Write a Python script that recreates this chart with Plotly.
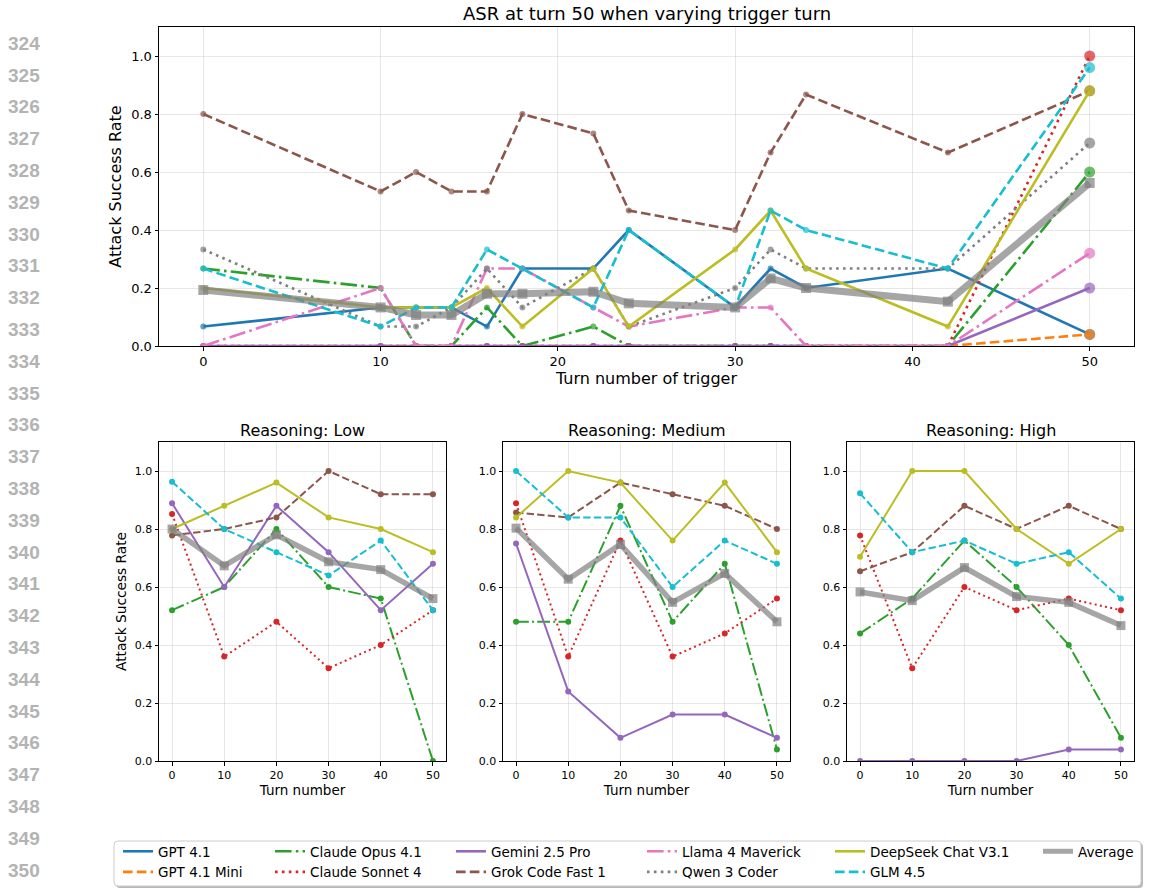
import plotly.graph_objects as go

W, H = 1149, 888
FONT = "DejaVu Sans"

# ---------------- data ----------------
top_turns = [0, 10, 12, 14, 16, 18, 22, 24, 30, 32, 34, 42, 50]
gpt41 = [0.067, 0.133, 0.133, 0.133, 0.067, 0.267, 0.267, 0.4, 0.133, 0.267, 0.2, 0.267, 0.04]
gpt41_mini = [0, 0, 0, 0, 0, 0, 0, 0, 0, 0, 0, 0, 0.04]
claude_opus = [0.267, 0.2, 0, 0, 0.133, 0, 0.067, 0, 0, 0, 0, 0, 0.6]
claude_sonnet = [0, 0, 0, 0, 0, 0, 0, 0, 0, 0, 0, 0, 1.0]
gemini = [0, 0, 0, 0, 0, 0, 0, 0, 0, 0, 0, 0, 0.2]
grok = [0.8, 0.533, 0.6, 0.533, 0.533, 0.8, 0.733, 0.467, 0.4, 0.667, 0.867, 0.667, 0.88]
llama = [0, 0.2, 0, 0, 0.267, 0.267, 0.133, 0.067, 0.133, 0.133, 0, 0, 0.32]
qwen = [0.333, 0.067, 0.067, 0.133, 0.267, 0.133, 0.267, 0.067, 0.2, 0.333, 0.267, 0.267, 0.7]
deepseek = [0.2, 0.133, 0.133, 0.133, 0.2, 0.067, 0.267, 0.067, 0.333, 0.467, 0.267, 0.067, 0.88]
glm = [0.267, 0.067, 0.133, 0.133, 0.333, 0.267, 0.133, 0.4, 0.133, 0.467, 0.4, 0.267, 0.96]
average = [0.193, 0.133, 0.107, 0.107, 0.18, 0.18, 0.187, 0.147, 0.133, 0.233, 0.2, 0.153, 0.562]

turns = [0, 10, 20, 30, 40, 50]
low_sonnet = [0.852, 0.36, 0.48, 0.32, 0.4, 0.52]
low_opus = [0.52, 0.6, 0.8, 0.6, 0.56, 0.0]
low_gemini = [0.889, 0.6, 0.88, 0.72, 0.52, 0.68]
low_grok = [0.778, 0.8, 0.84, 1.0, 0.92, 0.92]
low_deepseek = [0.8, 0.88, 0.96, 0.84, 0.8, 0.72]
low_glm = [0.963, 0.8, 0.72, 0.64, 0.76, 0.52]
low_avg = [0.8, 0.673, 0.78, 0.687, 0.66, 0.56]

med_sonnet = [0.889, 0.36, 0.76, 0.36, 0.44, 0.56]
med_opus = [0.48, 0.48, 0.88, 0.48, 0.68, 0.04]
med_gemini = [0.75, 0.24, 0.08, 0.16, 0.16, 0.08]
med_grok = [0.857, 0.84, 0.96, 0.92, 0.88, 0.8]
med_deepseek = [0.84, 1.0, 0.96, 0.76, 0.96, 0.72]
med_glm = [1.0, 0.84, 0.84, 0.6, 0.76, 0.68]
med_avg = [0.803, 0.627, 0.747, 0.547, 0.647, 0.48]

high_sonnet = [0.778, 0.32, 0.6, 0.52, 0.56, 0.52]
high_opus = [0.44, 0.56, 0.76, 0.6, 0.4, 0.08]
high_gemini = [0, 0, 0, 0, 0.04, 0.04]
high_grok = [0.654, 0.72, 0.88, 0.8, 0.88, 0.8]
high_deepseek = [0.704, 1.0, 1.0, 0.8, 0.68, 0.8]
high_glm = [0.923, 0.72, 0.76, 0.68, 0.72, 0.56]
high_avg = [0.583, 0.553, 0.667, 0.567, 0.547, 0.467]

model_names = ["GPT 4.1", "GPT 4.1 Mini", "Claude Opus 4.1", "Claude Sonnet 4", "Gemini 2.5 Pro",
               "Grok Code Fast 1", "Llama 4 Maverick", "Qwen 3 Coder", "DeepSeek Chat V3.1", "GLM 4.5"]
panel_titles = ["Reasoning: Low", "Reasoning: Medium", "Reasoning: High"]
line_numbers = list(range(324, 351))
y_ticks = [0.0, 0.2, 0.4, 0.6, 0.8, 1.0]
x_ticks = [0, 10, 20, 30, 40, 50]

# ---------------- styles ----------------
colors = {"GPT 4.1": "#1f77b4", "GPT 4.1 Mini": "#ff7f0e", "Claude Opus 4.1": "#2ca02c",
          "Claude Sonnet 4": "#d62728", "Gemini 2.5 Pro": "#9467bd", "Grok Code Fast 1": "#8c564b",
          "Llama 4 Maverick": "#e377c2", "Qwen 3 Coder": "#7f7f7f", "DeepSeek Chat V3.1": "#bcbd22",
          "GLM 4.5": "#17becf"}
styles = {"GPT 4.1": "solid", "GPT 4.1 Mini": "dashed", "Claude Opus 4.1": "dashdot",
          "Claude Sonnet 4": "dotted", "Gemini 2.5 Pro": "solid", "Grok Code Fast 1": "dashed",
          "Llama 4 Maverick": "dashdot", "Qwen 3 Coder": "dotted", "DeepSeek Chat V3.1": "solid",
          "GLM 4.5": "dashed"}


def dash_for(style, lw):
    if style == "solid":
        return "solid"
    if style == "dashed":
        return f"{3.7*lw:.1f}px,{1.6*lw:.1f}px"
    if style == "dotted":
        return f"{1.0*lw:.1f}px,{1.65*lw:.1f}px"
    return f"{6.4*lw:.1f}px,{1.6*lw:.1f}px,{1.0*lw:.1f}px,{1.6*lw:.1f}px"


def px_x(x):
    return x / W


def px_y(y):
    return 1 - y / H


AVG_LINE = "rgba(128,128,128,0.7)"

fig = go.Figure()

# ---------------- top chart ----------------
top_series = [gpt41, gpt41_mini, claude_opus, claude_sonnet, gemini, grok, llama, qwen, deepseek, glm]
LW_TOP = 2.6
for name, vals in zip(model_names, top_series):
    sizes = [6] * (len(top_turns) - 1) + [11]
    fig.add_trace(go.Scatter(
        x=top_turns, y=vals, mode="lines+markers", showlegend=False,
        line=dict(color=colors[name], width=LW_TOP, dash=dash_for(styles[name], LW_TOP)),
        marker=dict(color=colors[name], size=sizes, symbol="circle", line=dict(width=0)),
        xaxis="x", yaxis="y", hoverinfo="skip"))
fig.add_trace(go.Scatter(
    x=top_turns, y=average, mode="lines+markers", showlegend=False,
    line=dict(color=AVG_LINE, width=7),
    marker=dict(color=AVG_LINE, size=10, symbol="square", line=dict(width=0)),
    xaxis="x", yaxis="y", hoverinfo="skip"))

# ---------------- bottom panels ----------------
panel_models = ["Claude Opus 4.1", "Claude Sonnet 4", "Gemini 2.5 Pro", "Grok Code Fast 1",
                "DeepSeek Chat V3.1", "GLM 4.5"]
panels = [
    {"Claude Opus 4.1": low_opus, "Claude Sonnet 4": low_sonnet, "Gemini 2.5 Pro": low_gemini,
     "Grok Code Fast 1": low_grok, "DeepSeek Chat V3.1": low_deepseek, "GLM 4.5": low_glm, "avg": low_avg},
    {"Claude Opus 4.1": med_opus, "Claude Sonnet 4": med_sonnet, "Gemini 2.5 Pro": med_gemini,
     "Grok Code Fast 1": med_grok, "DeepSeek Chat V3.1": med_deepseek, "GLM 4.5": med_glm, "avg": med_avg},
    {"Claude Opus 4.1": high_opus, "Claude Sonnet 4": high_sonnet, "Gemini 2.5 Pro": high_gemini,
     "Grok Code Fast 1": high_grok, "DeepSeek Chat V3.1": high_deepseek, "GLM 4.5": high_glm, "avg": high_avg},
]
LW_BOT = 2.0
for i, pdata in enumerate(panels):
    xa, ya = f"x{i+2}", f"y{i+2}"
    for name in panel_models:
        fig.add_trace(go.Scatter(
            x=turns, y=pdata[name], mode="lines+markers", showlegend=False,
            line=dict(color=colors[name], width=LW_BOT, dash=dash_for(styles[name], LW_BOT)),
            marker=dict(color=colors[name], size=6, line=dict(width=0)),
            xaxis=xa, yaxis=ya, hoverinfo="skip"))
    fig.add_trace(go.Scatter(
        x=turns, y=pdata["avg"], mode="lines+markers", showlegend=False,
        line=dict(color=AVG_LINE, width=5.5),
        marker=dict(color=AVG_LINE, size=9, symbol="square", line=dict(width=0)),
        xaxis=xa, yaxis=ya, hoverinfo="skip"))

# ---------------- legend (column-major, like matplotlib ncol=6) ----------------
legend_cols = [["GPT 4.1", "GPT 4.1 Mini"], ["Claude Opus 4.1", "Claude Sonnet 4"],
               ["Gemini 2.5 Pro", "Grok Code Fast 1"], ["Llama 4 Maverick", "Qwen 3 Coder"],
               ["DeepSeek Chat V3.1", "GLM 4.5"], ["Average"]]
legend_text_x = [159, 311, 492, 683, 871, 1079]
LEG_TOP = 836
for ci, col in enumerate(legend_cols):
    lname = "legend" if ci == 0 else f"legend{ci+1}"
    for name in col:
        if name == "Average":
            ln = dict(color=AVG_LINE, width=5)
        else:
            ln = dict(color=colors[name], width=LW_TOP, dash=dash_for(styles[name], LW_TOP))
        fig.add_trace(go.Scatter(x=[None], y=[None], mode="lines", name=name, line=ln,
                                 showlegend=True, legend=lname, xaxis="x", yaxis="y"))

legend_layouts = {}
for ci in range(len(legend_cols)):
    lname = "legend" if ci == 0 else f"legend{ci+1}"
    legend_layouts[lname] = dict(
        x=px_x(legend_text_x[ci] - 41), y=px_y(LEG_TOP), xanchor="left", yanchor="top",
        orientation="v", bgcolor="rgba(0,0,0,0)", borderwidth=0, itemwidth=30,
        font=dict(family=FONT, size=13.5, color="black"), tracegroupgap=0, itemclick=False)

# ---------------- axes ----------------
common = dict(showline=True, linecolor="black", linewidth=1, mirror=True, ticks="outside",
              ticklen=3.5, tickwidth=1, tickcolor="black", showgrid=True,
              gridcolor="rgba(176,176,176,0.3)", gridwidth=0.8, zeroline=False)

top_x_dom = [px_x(159), px_x(1134)]
top_y_dom = [px_y(346), px_y(27)]
bot_y_dom = [px_y(761), px_y(442)]
bot_x_doms = [[px_x(159), px_x(446)], [px_x(503), px_x(790)], [px_x(847), px_x(1134)]]

layout = dict(
    width=W, height=H, autosize=False,
    margin=dict(l=0, r=0, t=0, b=0, autoexpand=False),
    paper_bgcolor="white", plot_bgcolor="white",
    font=dict(family=FONT, color="black"),
    xaxis=dict(common, domain=top_x_dom, range=[-2.5, 52.5], tickvals=x_ticks,
               tickfont=dict(size=13), anchor="y",
               title=dict(text="Turn number of trigger", font=dict(size=16), standoff=4)),
    yaxis=dict(common, domain=top_y_dom, range=[0, 1.1], tickvals=y_ticks, tickformat=".1f",
               tickfont=dict(size=13), anchor="x",
               title=dict(text="Attack Success Rate", font=dict(size=16), standoff=5)),
)
for i in range(3):
    xk, yk = f"xaxis{i+2}", f"yaxis{i+2}"
    layout[xk] = dict(common, domain=bot_x_doms[i], range=[-2.5, 52.5], tickvals=x_ticks,
                      tickfont=dict(size=11), anchor=f"y{i+2}",
                      title=dict(text="Turn number", font=dict(size=13.5), standoff=2))
    layout[yk] = dict(common, domain=bot_y_dom, range=[0, 1.1], tickvals=y_ticks, tickformat=".1f",
                      tickfont=dict(size=11), anchor=f"x{i+2}")
    if i == 0:
        layout[yk]["title"] = dict(text="Attack Success Rate", font=dict(size=13.7), standoff=5)
layout.update(legend_layouts)

annotations = [dict(text="ASR at turn 50 when varying trigger turn", x=px_x(646.5), y=px_y(14),
                    xref="paper", yref="paper", xanchor="center", yanchor="middle",
                    showarrow=False, font=dict(size=18, family=FONT, color="black"))]
for i, t in enumerate(panel_titles):
    cx = (bot_x_doms[i][0] + bot_x_doms[i][1]) / 2
    annotations.append(dict(text=t, x=cx, y=px_y(430), xref="paper", yref="paper",
                            xanchor="center", yanchor="middle", showarrow=False,
                            font=dict(size=16, family=FONT, color="black")))
for k, n in enumerate(line_numbers):
    annotations.append(dict(text=f"<b>{n}</b>", x=px_x(42), y=px_y(43.3 + 31.8 * k),
                            xref="paper", yref="paper", xanchor="right", yanchor="middle",
                            showarrow=False,
                            font=dict(size=19, family="Liberation Sans", color="#b3b3b3")))
layout["annotations"] = annotations


def rounded_rect_path(x0, y0, x1, y1, r):
    X = px_x
    Y = px_y
    return (f"M {X(x0 + r)},{Y(y0)} L {X(x1 - r)},{Y(y0)} Q {X(x1)},{Y(y0)} {X(x1)},{Y(y0 + r)} "
            f"L {X(x1)},{Y(y1 - r)} Q {X(x1)},{Y(y1)} {X(x1 - r)},{Y(y1)} "
            f"L {X(x0 + r)},{Y(y1)} Q {X(x0)},{Y(y1)} {X(x0)},{Y(y1 - r)} "
            f"L {X(x0)},{Y(y0 + r)} Q {X(x0)},{Y(y0)} {X(x0 + r)},{Y(y0)} Z")


layout["shapes"] = [
    dict(type="path", xref="paper", yref="paper", path=rounded_rect_path(116, 843, 1143, 888, 4),
         fillcolor="rgba(100,100,100,0.45)", line=dict(width=0), layer="below"),
    dict(type="path", xref="paper", yref="paper", path=rounded_rect_path(114, 841, 1141, 886, 4),
         fillcolor="white", line=dict(color="#cccccc", width=1), layer="below"),
]

fig.update_layout(layout)

fig.write_html("out.html", config={"displayModeBar": False},
               post_script="document.body.style.margin='0';document.body.style.overflow='hidden';")
